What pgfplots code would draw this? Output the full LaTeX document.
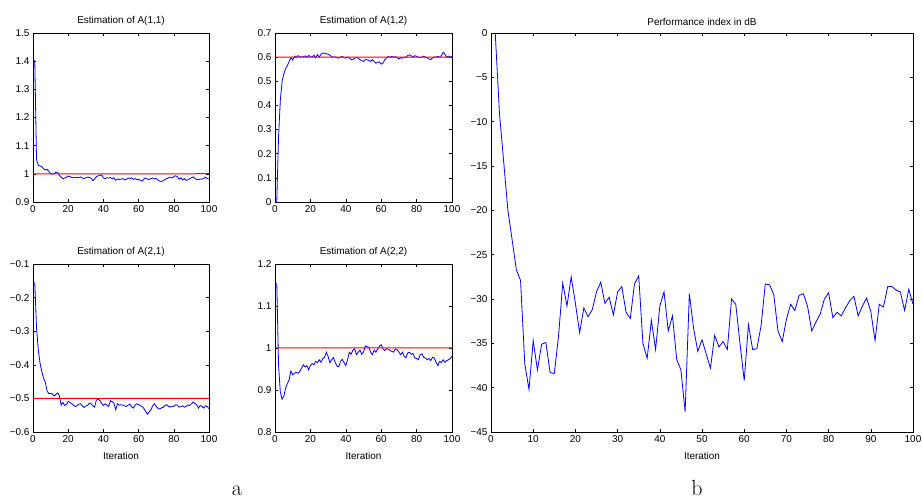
\documentclass[border=0pt]{standalone}
\usepackage{pgfplots}
\pgfplotsset{compat=1.18}
\usepackage{fontspec}
\setmainfont{Liberation Sans}
\newfontfamily\lmfont{Latin Modern Roman}
\definecolor{mred}{rgb}{1,0,0}
\definecolor{mblue}{rgb}{0,0,1}

\pgfplotstableread{
x y
1 1.405
2 1.05
3 1.03
4 1.028
5 1.025
6 1.018
7 1.014
8 1.016
9 1.008
10 1.0
11 0.999
12 1.0
13 1.006
14 1.004
15 0.995
16 0.988
17 0.983
18 0.985
19 0.988
20 0.992
21 0.99
22 0.987
23 0.986
24 0.988
25 0.987
26 0.986
27 0.989
28 0.985
29 0.983
30 0.986
31 0.988
32 0.987
33 0.985
34 0.976
35 0.981
36 0.99
37 0.993
38 0.994
39 0.997
40 0.985
41 0.983
42 0.986
43 0.985
44 0.987
45 0.982
46 0.986
47 0.977
48 0.982
49 0.98
50 0.981
51 0.983
52 0.979
53 0.98
54 0.985
55 0.983
56 0.986
57 0.98
58 0.983
59 0.979
60 0.981
61 0.976
62 0.974
63 0.982
64 0.985
65 0.981
66 0.98
67 0.983
68 0.985
69 0.982
70 0.984
71 0.978
72 0.974
73 0.973
74 0.976
75 0.98
76 0.983
77 0.986
78 0.988
79 0.985
80 0.99
81 0.993
82 0.99
83 0.981
84 0.986
85 0.978
86 0.983
87 0.977
88 0.979
89 0.982
90 0.986
91 0.989
92 0.984
93 0.98
94 0.979
95 0.982
96 0.981
97 0.984
98 0.988
99 0.983
100 0.982
}\tabAaa

\pgfplotstableread{
x y
1 0.0
2 0.27
3 0.42
4 0.5
5 0.53
6 0.553
7 0.565
8 0.582
9 0.598
10 0.588
11 0.604
12 0.598
13 0.606
14 0.603
15 0.6
16 0.602
17 0.605
18 0.6
19 0.607
20 0.602
21 0.6
22 0.608
23 0.597
24 0.61
25 0.6
26 0.612
27 0.617
28 0.616
29 0.614
30 0.612
31 0.608
32 0.602
33 0.6
34 0.601
35 0.598
36 0.596
37 0.6
38 0.603
39 0.597
40 0.596
41 0.6
42 0.596
43 0.59
44 0.589
45 0.596
46 0.598
47 0.596
48 0.59
49 0.585
50 0.582
51 0.59
52 0.589
53 0.586
54 0.582
55 0.59
56 0.582
57 0.575
58 0.578
59 0.58
60 0.571
61 0.575
62 0.589
63 0.597
64 0.603
65 0.6
66 0.603
67 0.6
68 0.602
69 0.598
70 0.592
71 0.597
72 0.596
73 0.6
74 0.598
75 0.607
76 0.61
77 0.605
78 0.6
79 0.606
80 0.603
81 0.6
82 0.598
83 0.6
84 0.604
85 0.6
86 0.598
87 0.592
88 0.59
89 0.596
90 0.6
91 0.6
92 0.603
93 0.6
94 0.606
95 0.62
96 0.612
97 0.6
98 0.604
99 0.6
100 0.603
}\tabAab

\pgfplotstableread{
x y
1 -0.155
2 -0.29
3 -0.355
4 -0.395
5 -0.42
6 -0.44
7 -0.452
8 -0.478
9 -0.486
10 -0.485
11 -0.487
12 -0.493
13 -0.488
14 -0.484
15 -0.492
16 -0.52
17 -0.512
18 -0.521
19 -0.518
20 -0.509
21 -0.512
22 -0.516
23 -0.52
24 -0.524
25 -0.522
26 -0.517
27 -0.516
28 -0.522
29 -0.527
30 -0.523
31 -0.521
32 -0.514
33 -0.516
34 -0.522
35 -0.526
36 -0.505
37 -0.503
38 -0.506
39 -0.515
40 -0.521
41 -0.516
42 -0.52
43 -0.524
44 -0.507
45 -0.51
46 -0.514
47 -0.534
48 -0.516
49 -0.52
50 -0.519
51 -0.52
52 -0.522
53 -0.524
54 -0.52
55 -0.517
56 -0.525
57 -0.529
58 -0.52
59 -0.516
60 -0.518
61 -0.522
62 -0.524
63 -0.53
64 -0.539
65 -0.547
66 -0.54
67 -0.534
68 -0.522
69 -0.516
70 -0.524
71 -0.529
72 -0.532
73 -0.528
74 -0.527
75 -0.521
76 -0.519
77 -0.524
78 -0.526
79 -0.523
80 -0.524
81 -0.519
82 -0.52
83 -0.526
84 -0.524
85 -0.522
86 -0.526
87 -0.524
88 -0.52
89 -0.521
90 -0.516
91 -0.511
92 -0.515
93 -0.519
94 -0.529
95 -0.521
96 -0.524
97 -0.529
98 -0.522
99 -0.524
100 -0.531
}\tabAba

\pgfplotstableread{
x y
1 1.155
2 0.96
3 0.895
4 0.878
5 0.885
6 0.905
7 0.915
8 0.925
9 0.945
10 0.936
11 0.94
12 0.942
13 0.94
14 0.944
15 0.952
16 0.96
17 0.955
18 0.958
19 0.948
20 0.958
21 0.963
22 0.96
23 0.968
24 0.965
25 0.972
26 0.966
27 0.975
28 0.978
29 0.99
30 0.98
31 0.965
32 0.972
33 0.977
34 0.966
35 0.957
36 0.955
37 0.968
38 0.973
39 0.965
40 0.958
41 0.972
42 0.99
43 0.985
44 0.995
45 0.998
46 0.984
47 0.99
48 0.995
49 0.985
50 0.99
51 1.005
52 1.003
53 1.002
54 0.99
55 0.984
56 0.995
57 0.99
58 0.998
59 1.004
60 1.008
61 0.998
62 0.994
63 0.998
64 0.997
65 0.994
66 0.992
67 0.99
68 0.998
69 0.996
70 0.99
71 0.984
72 0.99
73 0.98
74 0.977
75 0.988
76 0.99
77 0.985
78 0.987
79 0.976
80 0.975
81 0.972
82 0.984
83 0.986
84 0.978
85 0.976
86 0.972
87 0.975
88 0.97
89 0.978
90 0.976
91 0.966
92 0.958
93 0.968
94 0.965
95 0.972
96 0.966
97 0.97
98 0.972
99 0.975
100 0.98
}\tabAbb

\pgfplotstableread{
x y
1 0
2 -9
3 -14.5
4 -20
5 -23.3
6 -26.7
7 -27.9
8 -37.3
9 -40.2
10 -34.7
11 -38
12 -35.1
13 -34.9
14 -38.3
15 -38.4
16 -34.2
17 -28.2
18 -30.8
19 -27.5
20 -30.5
21 -33.8
22 -31
23 -32
24 -31.2
25 -29.2
26 -28.1
27 -30.5
28 -29.8
29 -31.8
30 -29.2
31 -28.6
32 -31.5
33 -32.2
34 -28.3
35 -27.4
36 -35
37 -36.7
38 -32.4
39 -35.7
40 -30.8
41 -29.2
42 -33.6
43 -31.9
44 -36.8
45 -38
46 -42.7
47 -29.4
48 -33.3
49 -35.9
50 -34.6
51 -36.2
52 -37.8
53 -34.1
54 -35.4
55 -34.8
56 -35.7
57 -30
58 -30.6
59 -35
60 -39.2
61 -32.9
62 -35.7
63 -35.6
64 -33
65 -28.3
66 -28.4
67 -29.5
68 -33.6
69 -34.8
70 -32.3
71 -30.6
72 -31.3
73 -29.6
74 -29.4
75 -30.8
76 -33.6
77 -32.6
78 -31.7
79 -30
80 -29.3
81 -32.1
82 -31.5
83 -31.9
84 -31
85 -30.2
86 -29.7
87 -31.9
88 -30.8
89 -29.9
90 -31.4
91 -34.7
92 -30.6
93 -30.9
94 -28.6
95 -28.6
96 -29
97 -29.2
98 -31.3
99 -28.9
100 -30.6
}\tabPerf

\pgfplotsset{
  mstyle/.style={
    scale only axis,
    anchor=south west,
    xmin=0, xmax=100,
    tick align=inside,
    major tick length=3bp,
    axis line style={line width=0.8bp},
    every tick/.style={black, line width=0.5bp},
    tick label style={font=\fontsize{10}{12}\selectfont},
    label style={font=\fontsize{10}{12}\selectfont},
    xlabel style={yshift=-3bp},
    title style={font=\fontsize{10}{12}\selectfont, yshift=-2bp},
    /pgf/number format/assume math mode=true,
    xtick={0,20,40,60,80,100},
  },
  myest/.style={draw=mblue, line width=0.8bp, mark=none},
  myref/.style={draw=mred, line width=1bp, mark=none},
}

\begin{document}
\begin{tikzpicture}[x=1bp,y=1bp]
\path[use as bounding box] (0,0) rectangle (922,500);

\begin{axis}[mstyle, at={(33bp,298bp)}, width=176bp, height=169bp,
  ymin=0.9, ymax=1.5, ytick={0.9,1,1.1,1.2,1.3,1.4,1.5},
  title={Estimation of A(1,1)}]
\addplot[myest] table[x=x,y=y] {\tabAaa};
\addplot[myref] coordinates {(0,1) (50,1) (100,1.0003)};
\end{axis}

\begin{axis}[mstyle, at={(275bp,298bp)}, width=177bp, height=169bp,
  ymin=0, ymax=0.7, ytick={0,0.1,0.2,0.3,0.4,0.5,0.6,0.7},
  title={Estimation of A(1,2)}]
\addplot[myest] table[x=x,y=y] {\tabAab};
\addplot[myref] coordinates {(0,0.6) (50,0.6) (100,0.6003)};
\end{axis}

\begin{axis}[mstyle, at={(33bp,68bp)}, width=176bp, height=168bp,
  ymin=-0.6, ymax=-0.1, ytick={-0.6,-0.5,-0.4,-0.3,-0.2,-0.1},
  yticklabels={−0.6,−0.5,−0.4,−0.3,−0.2,−0.1},
  title={Estimation of A(2,1)}, xlabel={Iteration}]
\addplot[myest] table[x=x,y=y] {\tabAba};
\addplot[myref] coordinates {(0,-0.5) (50,-0.5) (100,-0.4997)};
\end{axis}

\begin{axis}[mstyle, at={(275bp,68bp)}, width=177bp, height=168bp,
  ymin=0.8, ymax=1.2, ytick={0.8,0.9,1,1.1,1.2},
  title={Estimation of A(2,2)}, xlabel={Iteration}]
\addplot[myest] table[x=x,y=y] {\tabAbb};
\addplot[myref] coordinates {(0,1) (50,1) (100,1.0003)};
\end{axis}

\begin{axis}[mstyle, at={(491bp,68bp)}, width=422bp, height=399bp,
  ymin=-45, ymax=0, ytick={-45,-40,-35,-30,-25,-20,-15,-10,-5,0},
  yticklabels={−45,−40,−35,−30,−25,−20,−15,−10,−5,0},
  xtick={0,10,20,30,40,50,60,70,80,90,100},
  title={Performance index in dB}, xlabel={Iteration}]
\addplot[myest] table[x=x,y=y] {\tabPerf};
\end{axis}

\node[font=\lmfont\fontsize{22}{26}\selectfont, anchor=base] at (237,4) {a};
\node[font=\lmfont\fontsize{22}{26}\selectfont, anchor=base] at (697,4) {b};
\end{tikzpicture}
\end{document}
